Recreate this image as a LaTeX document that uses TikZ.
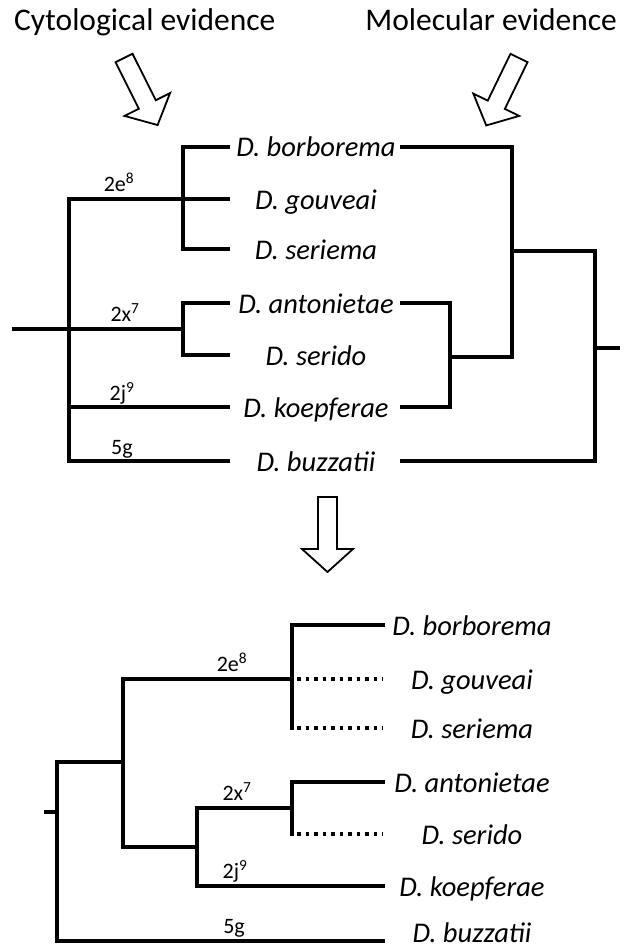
\documentclass[tikz,border=0pt]{standalone}
\usepackage{fontspec}
\setmainfont{Carlito}
\begin{document}
\begin{tikzpicture}[x=1pt,y=-1pt,
  branch/.style={line width=3.5pt,line join=miter,line cap=rect},
  dotbranch/.style={line width=3.5pt,dash pattern=on 3.5pt off 5pt},
  species/.style={anchor=base,font=\fontsize{28.5}{30}\selectfont\itshape,inner sep=0pt},
  evlabel/.style={anchor=base,font=\fontsize{22}{24}\selectfont,inner sep=0pt},
  title/.style={anchor=base,font=\fontsize{31.5}{33}\selectfont,inner sep=0pt},
  hollow/.style={draw=black,fill=white,line width=1.8pt,line join=miter}]
\useasboundingbox (0,0) rectangle (628,947);
\fill[white] (0,0) rectangle (628,947);
% titles
\node[title,anchor=base west] (cyto) at (14,31) {Cytological evidence};
\node[title,anchor=base east] (mol) at (617,31) {Molecular evidence};
% hollow arrows
\begin{scope}[shift={(124,58)},rotate=-63.4]
\draw[hollow] (0,-9.5) -- (52,-9.5) -- (52,-25.5) -- (75,0) -- (52,25.5) -- (52,9.5) -- (0,9.5) -- cycle;
\end{scope}
\begin{scope}[shift={(519,58)},rotate=-115.9]
\draw[hollow] (0,-9.5) -- (52,-9.5) -- (52,-25.5) -- (75,0) -- (52,25.5) -- (52,9.5) -- (0,9.5) -- cycle;
\end{scope}
\begin{scope}[shift={(327.5,497)},rotate=-90]
\draw[hollow] (0,-9.5) -- (52,-9.5) -- (52,-25.5) -- (75,0) -- (52,25.5) -- (52,9.5) -- (0,9.5) -- cycle;
\end{scope}

% ---------------- top tree ----------------
\node[species] (ta) at (316,157) {D. borborema};
\node[species] (tb) at (316,209) {D. gouveai};
\node[species] (tc) at (316,259) {D. seriema};
\node[species] (td) at (316,313) {D. antonietae};
\node[species] (te) at (316,365) {D. serido};
\node[species] (tf) at (316,417) {D. koepferae};
\node[species] (tg) at (316,471) {D. buzzatii};
% left ends of branches
\coordinate (la) at (228,147);
\coordinate (lb) at (228,199);
\coordinate (lc) at (228,249);
\coordinate (ld) at (228,303);
\coordinate (le) at (228,355);
\coordinate (lf) at (228,407);
\coordinate (lg) at (228,461);
\coordinate (troot) at (14,329);
\coordinate (tv) at (69,199);
\coordinate (tvb) at (69,461);
\coordinate (te8) at (183,199);
\coordinate (tx7) at (183,329);
\draw[branch] (troot) -- (tx7);
\draw[branch] (tv) -- (tvb);
\draw[branch] (tv) -- (lb);
\draw[branch] (la) -| (te8) |- (lc);
\draw[branch] (ld) -| (tx7) |- (le);
\draw[branch] (69,407) -- (lf);
\draw[branch] (tvb) -- (lg);
\node[evlabel] (t2e) at (119,191) {2e\textsuperscript{8}};
\node[evlabel] (t2x) at (125,321) {2x\textsuperscript{7}};
\node[evlabel] (t2j) at (122,400) {2j\textsuperscript{9}};
\node[evlabel] (t5g) at (122,454) {5g};
% right (molecular) side
\coordinate (ra) at (402,147);
\coordinate (rd) at (402,303);
\coordinate (rf) at (402,407);
\coordinate (rg) at (402,461);
\coordinate (rdf) at (450,357);
\coordinate (rad) at (512,251);
\coordinate (rall) at (595,348);
\coordinate (rstub) at (618,348);
\draw[branch] (rd) -| (rdf) |- (rf);
\draw[branch] (ra) -| (rad) |- (rdf);
\draw[branch] (rad) -| (rall) |- (rg);
\draw[branch] (rall) -- (rstub);

% ---------------- bottom tree ----------------
\node[species] (ba) at (472,635) {D. borborema};
\node[species] (bb) at (472,689) {D. gouveai};
\node[species] (bc) at (472,738) {D. seriema};
\node[species] (bd) at (472,792) {D. antonietae};
\node[species] (be) at (472,844) {D. serido};
\node[species] (bf) at (472,896) {D. koepferae};
\node[species] (bg) at (472,942) {D. buzzatii};
\coordinate (ea) at (383,625);
\coordinate (eb) at (383,679);
\coordinate (ec) at (383,728);
\coordinate (ed) at (383,782);
\coordinate (ee) at (383,834);
\coordinate (ef) at (383,886);
\coordinate (eg) at (383,941);
\coordinate (bstub) at (46,812);
\coordinate (broot) at (57,812);
\coordinate (b1) at (123,762);
\coordinate (b2) at (197,847);
\coordinate (b8) at (292,679);
\coordinate (b7) at (292,808);
\draw[branch] (bstub) -- (broot);
\draw[branch] (b1) -| (broot) |- (eg);
\draw[branch] (b8) -| (b1) |- (b2);
\draw[branch] (b7) -| (b2) |- (ef);
\draw[branch] (ea) -| (b8) |- (292,728);
\draw[branch] (b8) -- (292,625);
\draw[branch] (ed) -| (b7) |- (292,834);
\draw[dotbranch] (297,679) -- (eb);
\draw[dotbranch] (297,728) -- (ec);
\draw[dotbranch] (297,834) -- (ee);
\node[evlabel] (b2e) at (232,671) {2e\textsuperscript{8}};
\node[evlabel] (b2x) at (237,800) {2x\textsuperscript{7}};
\node[evlabel] (b2j) at (235,878) {2j\textsuperscript{9}};
\node[evlabel] (b5g) at (234,933) {5g};
\end{tikzpicture}
\end{document}
